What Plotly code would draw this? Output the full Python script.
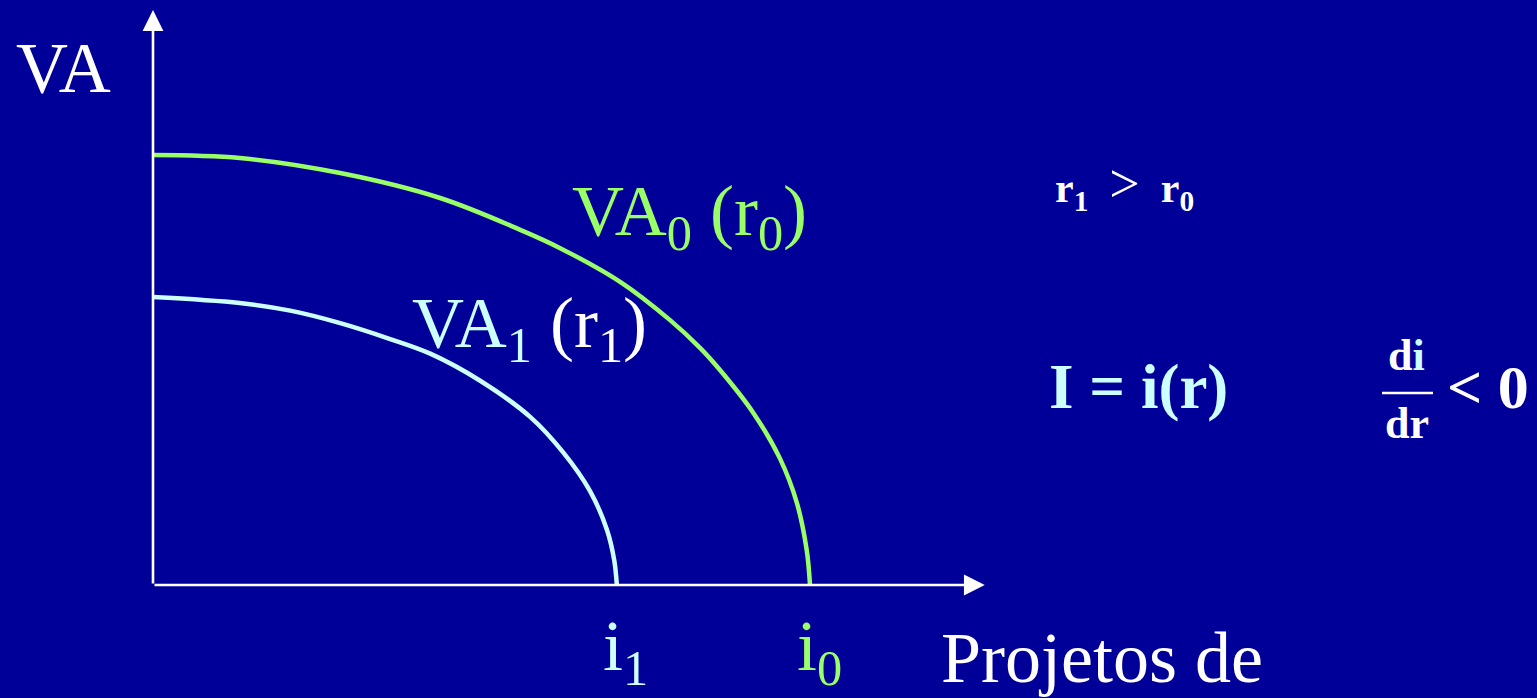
import plotly.graph_objects as go

# Present value of investment projects for two interest rates (r1 > r0)
va0_x = [0.0, 1.32, 2.85, 4.37, 5.59, 6.19, 7.11, 7.87, 8.33, 8.63, 9.13, 9.54, 9.80, 9.95, 10.0]
va0_y = [10.0, 9.93, 9.58, 9.00, 8.26, 7.84, 7.05, 6.16, 5.51, 5.00, 4.02, 2.95, 1.91, 0.81, 0.0]

va1_x = [0.0, 1.32, 2.09, 2.85, 3.61, 4.22, 4.98, 5.74, 6.24, 6.65, 6.91, 7.02, 7.06]
va1_y = [6.70, 6.56, 6.38, 6.09, 5.72, 5.38, 4.75, 3.91, 3.09, 2.19, 1.28, 0.58, 0.0]

# axis extents (arrow tips)
x_axis_end = 12.66
y_axis_end = 13.37

W, H = 1537, 698
BG = "#000099"
GREEN = "#99FF66"
CYAN = "#CCFFFF"
WHITE = "#FFFFFF"
SERIF = "Liberation Serif, Times New Roman, serif"


def px(x):
    return x / W


def py(y):
    return 1 - y / H


fig = go.Figure()

fig.add_trace(go.Scatter(x=va1_x, y=va1_y, mode="lines",
                         line=dict(color=CYAN, width=4.5, shape="spline", smoothing=1.0),
                         hoverinfo="skip", showlegend=False))
fig.add_trace(go.Scatter(x=va0_x, y=va0_y, mode="lines",
                         line=dict(color=GREEN, width=4.5, shape="spline", smoothing=1.0),
                         hoverinfo="skip", showlegend=False))

annotations = []

# axes drawn as arrows from the origin
for tip_x, tip_y in [(0, y_axis_end), (x_axis_end, 0)]:
    annotations.append(dict(x=tip_x, y=tip_y, ax=0, ay=0, xref="x", yref="y",
                            axref="x", ayref="y", text="", showarrow=True,
                            arrowhead=2, arrowsize=1.6, arrowwidth=2.6,
                            arrowcolor=WHITE))


def label(text, x, y, size, color=WHITE, xanchor="left", xref="paper", xshift=0):
    annotations.append(dict(text=text, x=x, y=y, xref=xref, yref="paper",
                            xanchor=xanchor, yanchor="top", showarrow=False,
                            xshift=xshift, borderpad=0, borderwidth=0,
                            font=dict(family=SERIF, size=size, color=color)))


label("VA", px(16), py(92 - 0.891 * 72), 72)
label("VA<sub>0</sub> (r<sub>0</sub>)", px(572), py(235 - 0.891 * 72), 72, GREEN)
label(f"<span style='color:{CYAN}'>VA<sub>1</sub></span> (r<sub>1</sub>)",
      px(412), py(347 - 0.891 * 72), 72)
label("i<sub>1</sub>", va1_x[-1], py(670 - 0.891 * 72), 72, CYAN,
      xanchor="center", xref="x", xshift=9)
label("i<sub>0</sub>", va0_x[-1], py(670 - 0.891 * 72), 72, GREEN,
      xanchor="center", xref="x", xshift=9)
label("Projetos de", px(941), py(682 - 0.891 * 72), 72)

label("<b>r<sub>1</sub></b>&nbsp;&nbsp;<span style='font-size:54px'>&gt;</span>"
      "&nbsp;&nbsp;<b>r<sub>0</sub></b>",
      px(1055), py(202 - 0.891 * 54), 42)
label("<b>I = i(r)</b>", px(1049), py(408 - 0.891 * 63), 63, CYAN)
label(f"<b>d<span style='color:{CYAN}'>i</span></b>", px(1406),
      py(370 - 0.891 * 44), 44, xanchor="center")
label("<b>dr</b>", px(1407), py(438 - 0.891 * 44), 44, xanchor="center")
label("<b>&lt; 0</b>", px(1447), py(408 - 0.891 * 62), 62)

fig.update_layout(
    width=W, height=H,
    margin=dict(l=0, r=0, t=0, b=0),
    paper_bgcolor=BG, plot_bgcolor=BG,
    xaxis=dict(range=[-153 / 65.7, (W - 153) / 65.7], visible=False, fixedrange=True),
    yaxis=dict(range=[-(H - 585) / 43, 585 / 43], visible=False, fixedrange=True),
    annotations=annotations,
    shapes=[dict(type="line", xref="paper", yref="paper",
                 x0=px(1382), x1=px(1433), y0=py(393), y1=py(393),
                 line=dict(color=WHITE, width=2.5))],
)

fig.write_html("out.html")
